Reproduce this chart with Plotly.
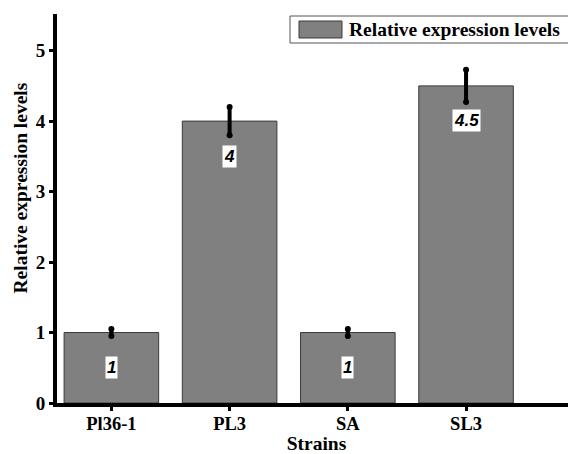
import plotly.graph_objects as go

strains = ["Pl36-1", "PL3", "SA", "SL3"]
values = [1, 4, 1, 4.5]
errors = [0.05, 0.2, 0.05, 0.23]
value_labels = ["1", "4", "1", "4.5"]
series_name = "Relative expression levels"
y_title = "Relative expression levels"
x_title = "Strains"

SERIF = "Liberation Serif, Times New Roman, serif"
SANS = "Liberation Sans, Arial, sans-serif"

# page body has an 8px margin, so the figure is drawn 8px smaller
W, H = 568, 446
L, T, B = 49, 6, 51
PW, PH = W - L, H - T - B


def px(xr):  # reference page x -> paper x
    return (xr - 8 - L) / PW


def py(yr):  # reference page y -> paper y
    return (H - B - (yr - 8)) / PH


fig = go.Figure()
fig.add_trace(go.Bar(
    x=list(range(len(strains))), y=values, width=0.80,
    marker=dict(color="#808080", line=dict(color="#3a3a3a", width=1)),
    error_y=dict(type="data", array=errors, visible=True, thickness=4, width=0, color="black"),
    showlegend=False,
))
cap_x = [i for i in range(len(strains)) for _ in (0, 1)]
cap_y = [v + s * e for v, e in zip(values, errors) for s in (1, -1)]
fig.add_trace(go.Scatter(x=cap_x, y=cap_y, mode="markers",
                         marker=dict(color="black", size=6), showlegend=False, hoverinfo="skip"))

for i, (v, lab) in enumerate(zip(values, value_labels)):
    fig.add_annotation(x=i, y=v, text="<b><i>" + lab + "</i></b>", showarrow=False,
                       yshift=-35, bgcolor="white", borderpad=1,
                       font=dict(family=SANS, size=17, color="black"))

# legend box
fig.add_shape(type="rect", xref="paper", yref="paper",
              x0=px(290), x1=px(570), y0=py(43), y1=py(16),
              line=dict(color="#555555", width=1), fillcolor="white")
fig.add_shape(type="rect", xref="paper", yref="paper",
              x0=px(299), x1=px(342), y0=py(38), y1=py(21),
              line=dict(color="#3a3a3a", width=1), fillcolor="#808080")
fig.add_annotation(xref="paper", yref="paper", x=px(347), y=py(29.5),
                   xanchor="left", yanchor="middle", showarrow=False,
                   text="<b>" + series_name + "</b>",
                   font=dict(family=SERIF, size=19.5, color="black"))

# y-axis title
fig.add_annotation(xref="paper", yref="paper", x=px(8), y=py(188),
                   xanchor="left", yanchor="middle", showarrow=False, textangle=-90,
                   borderpad=0,
                   text="<b>" + y_title + "</b>",
                   font=dict(family=SERIF, size=19.5, color="black"))

fig.update_layout(
    width=W, height=H,
    margin=dict(l=L, r=0, t=T, b=B),
    plot_bgcolor="white", paper_bgcolor="white",
    xaxis=dict(
        range=[-0.46, 3.93], tickmode="array", tickvals=list(range(len(strains))),
        ticktext=strains,
        showline=True, linecolor="black", linewidth=4, showgrid=False, zeroline=False,
        ticks="outside", ticklen=4, tickwidth=3, tickcolor="black",
        ticklabelstandoff=-3,
        tickfont=dict(family=SERIF, size=18.5, color="black", weight="bold"),
        title=dict(text="<b>" + x_title + "</b>", font=dict(family=SERIF, size=19.5, color="black"), standoff=6),
    ),
    yaxis=dict(
        range=[0, 5.52], tickvals=[0, 1, 2, 3, 4, 5],
        showline=True, linecolor="black", linewidth=4, showgrid=False, zeroline=False,
        ticks="outside", ticklen=4, tickwidth=3, tickcolor="black",
        tickfont=dict(family=SERIF, size=19, color="black", weight="bold"),
    ),
)

fig.write_html("out.html")
